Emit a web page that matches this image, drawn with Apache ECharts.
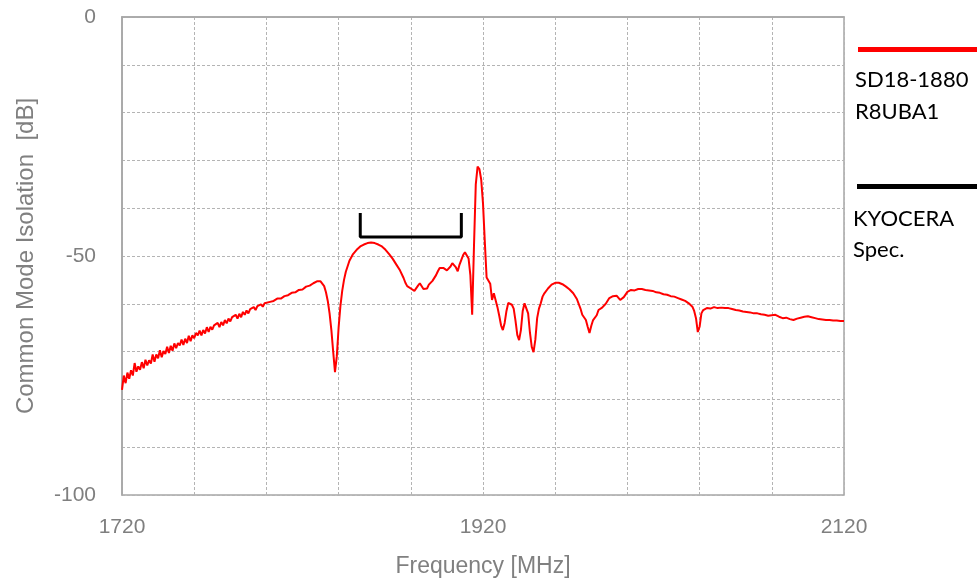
<!DOCTYPE html>
<html>
<head>
<meta charset="utf-8">
<script src="https://cdn.jsdelivr.net/npm/echarts@6/dist/echarts.min.js"></script>
<style>
  html, body { margin: 0; padding: 0; background: #fff; }
  #chart { width: 977px; height: 580px; }
</style>
</head>
<body>
<div id="chart"></div>
<script>
var freqMHz = [
  1720,1721,1722,1723,1724,1725,1726,1727,1728,1729,
  1730,1731,1732,1733,1734,1735,1736,1737,1738,1739,
  1740,1741,1742,1743,1744,1745,1746,1747,1748,1749,
  1750,1751,1752,1753,1754,1755,1756,1757,1758,1759,
  1760,1761,1762,1763,1764,1765,1766,1767,1768,1769,
  1770,1771,1772,1773,1774,1775,1776,1777,1778,1779,
  1780,1781,1782,1783,1784,1785,1786,1787,1788,1789,
  1790,1791,1792,1793,1794,1795,1796,1797,1798,1799,
  1800,1802,1804,1806,1808,1810,1812,1814,1816,1818,
  1820,1822,1824,1826,1828,1830,1831,1832,1833,1834,
  1835,1836,1837,1838,1839,1840,1841,1842,1843,1844,
  1846,1848,1850,1852,1854,1856,1858,1860,1862,1864,
  1866,1868,1870,1872,1874,1876,1877,1878,1880,1882,
  1883,1884,1885,1886,1887,1888,1889,1890,1892,1894,
  1895,1896,1897,1898,1899,1900,1901,1902,1903,1904,
  1905,1906,1907,1908,1909,1910,1911,1912,1913,1914,
  1915,1916,1917,1918,1919,1920,1921,1922,1923,1924,
  1925,1926,1927,1928,1929,1930,1931,1932,1933,1934,
  1935,1936,1937,1938,1939,1940,1941,1942,1943,1944,
  1945,1946,1947,1948,1949,1950,1951,1952,1953,1954,
  1956,1958,1960,1962,1964,1966,1968,1970,1972,1974,
  1975,1976,1977,1978,1979,1980,1981,1982,1983,1984,
  1986,1988,1990,1992,1994,1996,1998,2000,2002,2004,
  2006,2008,2010,2012,2014,2016,2018,2020,2022,2024,
  2026,2028,2030,2032,2034,2036,2037,2038,2039,2040,
  2041,2042,2044,2046,2048,2050,2052,2054,2056,2058,
  2060,2062,2064,2066,2068,2070,2072,2074,2076,2078,
  2080,2082,2084,2086,2088,2090,2092,2094,2096,2098,
  2100,2102,2104,2106,2108,2110,2112,2114,2116,2118,
  2120
];
var isolationDb = [
  -78.0,-75.0,-76.6,-74.4,-75.7,-73.9,-75.0,-72.4,-74.2,-73.1,
  -73.8,-72.2,-73.5,-71.7,-72.9,-71.8,-72.5,-70.6,-72.1,-70.6,
  -71.4,-69.7,-71.2,-69.9,-70.5,-69.0,-70.3,-68.8,-69.8,-68.3,
  -69.3,-68.2,-68.7,-67.5,-68.6,-67.3,-68.2,-66.7,-67.8,-66.6,
  -67.2,-66.1,-66.6,-65.6,-66.6,-65.5,-66.2,-64.9,-65.9,-64.8,
  -65.4,-64.5,-64.8,-64.0,-64.9,-63.8,-64.5,-63.4,-64.1,-63.1,
  -63.7,-62.8,-63.1,-62.3,-63.1,-62.1,-62.8,-61.7,-62.3,-61.4,
  -62.0,-61.1,-61.3,-60.7,-61.3,-60.5,-60.9,-60.1,-60.6,-59.9,
  -60.1,-59.6,-59.4,-58.9,-58.9,-58.4,-58.2,-57.7,-57.6,-57.1,
  -57.0,-56.4,-56.2,-55.7,-55.3,-55.3,-55.6,-56.3,-57.6,-59.4,
  -62.0,-65.5,-70.0,-74.3,-71.0,-65.0,-60.5,-57.3,-55.0,-53.3,
  -51.0,-49.6,-48.7,-48.0,-47.6,-47.3,-47.2,-47.3,-47.6,-48.0,
  -48.7,-49.6,-50.6,-51.8,-53.0,-54.6,-55.6,-56.3,-56.8,-57.3,
  -57.0,-56.2,-55.7,-56.0,-56.9,-57.1,-56.8,-56.0,-55.2,-54.0,
  -53.2,-52.5,-52.4,-52.5,-52.6,-53.0,-52.6,-52.2,-51.5,-51.3,
  -52.4,-53.2,-51.8,-50.8,-49.8,-49.2,-49.4,-50.5,-54.0,-62.3,
  -48.0,-35.0,-31.3,-31.8,-34.0,-39.0,-47.0,-54.5,-54.2,-55.8,
  -59.2,-57.8,-58.2,-60.7,-62.5,-64.5,-65.5,-64.0,-61.5,-59.8,
  -59.6,-60.2,-61.0,-63.5,-66.5,-67.6,-65.5,-61.5,-59.9,-60.0,
  -62.0,-66.0,-69.0,-70.1,-67.5,-63.0,-61.0,-59.9,-58.5,-57.8,
  -56.8,-56.0,-55.6,-55.6,-55.9,-56.4,-57.0,-57.8,-59.0,-61.0,
  -62.3,-62.4,-63.4,-64.8,-66.1,-64.6,-63.4,-63.6,-62.4,-61.3,
  -60.8,-60.0,-58.8,-58.4,-58.3,-59.2,-58.6,-57.5,-57.1,-57.2,
  -56.9,-56.9,-57.1,-57.2,-57.3,-57.6,-57.7,-58.0,-58.1,-58.4,
  -58.5,-58.8,-59.1,-59.4,-59.9,-60.6,-61.5,-63.0,-65.9,-64.8,
  -62.0,-61.3,-60.9,-61.0,-60.7,-60.9,-60.8,-60.9,-60.9,-61.1,
  -61.3,-61.4,-61.6,-61.7,-61.8,-62.0,-62.0,-62.2,-62.3,-62.5,
  -62.4,-62.3,-62.7,-63.0,-62.9,-63.2,-63.4,-63.1,-62.9,-62.7,
  -62.6,-62.8,-63.0,-63.2,-63.3,-63.4,-63.4,-63.5,-63.5,-63.6,
  -63.6
];

// spec bracket (pass band)
var specFreq = [1852, 1852, 1908, 1908];
var specDb = [-41, -46, -46, -41];

var yLabels = [0, -50, -100];
var xLabels = [1720, 1920, 2120];

var chart = echarts.init(document.getElementById('chart'));

function zip(xs, ys) {
  var out = [];
  for (var i = 0; i < xs.length; i++) out.push([xs[i], ys[i]]);
  return out;
}

var gridLine = {
  show: true,
  lineStyle: { color: '#b4b4b4', type: [3, 2], width: 1 }
};

var option = {
  animation: false,
  backgroundColor: '#fff',
  grid: {
    left: 122,
    top: 17,
    right: 133,
    bottom: 85,
    outerBoundsMode: 'none',
    show: true,
    borderColor: '#a6a6a6',
    borderWidth: 1.5
  },
  xAxis: {
    type: 'value',
    min: 1720,
    max: 2120,
    interval: 40,
    name: 'Frequency [MHz]',
    nameLocation: 'middle',
    nameGap: 60,
    nameTextStyle: { color: '#808080', fontSize: 23, fontFamily: 'Liberation Sans' },
    axisLine: { show: true, lineStyle: { color: '#a6a6a6', width: 1.5 } },
    axisTick: { show: false },
    splitLine: gridLine,
    axisLabel: {
      color: '#7f7f7f',
      fontSize: 21,
      fontFamily: 'Liberation Sans',
      margin: 22,
      showMinLabel: true,
      showMaxLabel: true,
      formatter: function (v) {
        return xLabels.indexOf(v) >= 0 ? String(v) : '';
      }
    }
  },
  yAxis: {
    type: 'value',
    min: -100,
    max: 0,
    interval: 10,
    name: 'Common Mode Isolation  [dB]',
    nameLocation: 'middle',
    nameGap: 84,
    nameTextStyle: { color: '#808080', fontSize: 24, fontFamily: 'Liberation Sans' },
    axisLine: { show: true, lineStyle: { color: '#a6a6a6', width: 1.5 } },
    axisTick: { show: false },
    splitLine: gridLine,
    axisLabel: {
      color: '#7f7f7f',
      fontSize: 21,
      fontFamily: 'Liberation Sans',
      margin: 26,
      formatter: function (v) {
        return yLabels.indexOf(v) >= 0 ? String(v) : '';
      }
    }
  },
  series: [
    {
      name: 'SD18-1880 R8UBA1',
      type: 'line',
      data: zip(freqMHz, isolationDb),
      showSymbol: false,
      lineStyle: { color: '#ff0000', width: 2 },
      z: 3
    },
    {
      name: 'KYOCERA Spec.',
      type: 'line',
      data: zip(specFreq, specDb),
      showSymbol: false,
      lineStyle: { color: '#000', width: 3 },
      z: 4
    }
  ],
  graphic: [
    { type: 'rect', left: 858, top: 47, shape: { width: 119, height: 5 }, style: { fill: '#ff0000' } },
    { type: 'text', left: 855, top: 64, style: { text: 'SD18-1880\nR8UBA1', font: '22px Lato', fill: '#000', lineHeight: 32 } },
    { type: 'rect', left: 857, top: 184, shape: { width: 120, height: 5 }, style: { fill: '#000' } },
    { type: 'text', left: 853, top: 203, style: { text: 'KYOCERA\nSpec.', font: '22px Lato', fill: '#000', lineHeight: 31 } }
  ]
};

chart.setOption(option);
</script>
</body>
</html>
